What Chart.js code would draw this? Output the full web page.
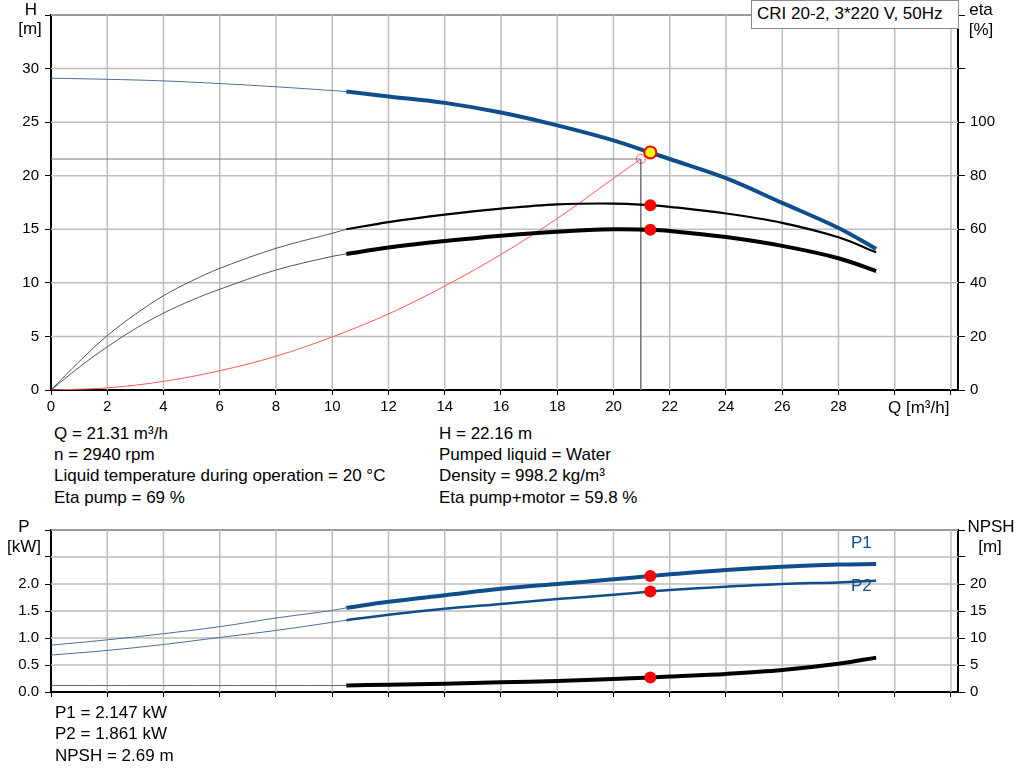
<!DOCTYPE html>
<html>
<head>
<meta charset="utf-8">
<script src="https://cdn.jsdelivr.net/npm/chart.js@4.4.1/dist/chart.umd.min.js"></script>
<style>
body{margin:0;background:#fff;width:1024px;height:781px;overflow:hidden;position:relative;font-family:"Liberation Sans",Arial,sans-serif;font-size:17px;color:#000}
.t{position:absolute;white-space:nowrap;line-height:18px;z-index:2}
.c{text-align:center;width:60px}
canvas{position:absolute;left:0}
#box{position:absolute;left:751px;top:0;width:206px;height:27px;border:1px solid #8a8a8a;background:#fff;z-index:2}
</style>
</head>
<body>
<canvas id="top" width="1024" height="420" style="top:0"></canvas>
<canvas id="bot" width="1024" height="207" style="top:515px"></canvas>

<div id="box"></div>
<div class="t" style="left:757px;top:5px">CRI 20-2, 3*220 V, 50Hz</div>
<div class="t c" style="left:1px;top:1px">H</div>
<div class="t c" style="left:0px;top:20px">[m]</div>
<div class="t c" style="left:951px;top:1px">eta</div>
<div class="t c" style="left:951px;top:21px">[%]</div>
<div class="t" style="left:888px;top:399px">Q [m³/h]</div>

<div class="t" style="left:54px;top:425px">Q = 21.31 m³/h</div>
<div class="t" style="left:54px;top:446px">n = 2940 rpm</div>
<div class="t" style="left:54px;top:467px">Liquid temperature during operation = 20 °C</div>
<div class="t" style="left:54px;top:489px">Eta pump = 69 %</div>
<div class="t" style="left:439px;top:425px">H = 22.16 m</div>
<div class="t" style="left:439px;top:446px">Pumped liquid = Water</div>
<div class="t" style="left:439px;top:467px">Density = 998.2 kg/m³</div>
<div class="t" style="left:439px;top:489px">Eta pump+motor = 59.8 %</div>

<div class="t c" style="left:-6px;top:518px">P</div>
<div class="t c" style="left:-6px;top:538px">[kW]</div>
<div class="t c" style="left:961px;top:518px">NPSH</div>
<div class="t c" style="left:960px;top:538px">[m]</div>
<div class="t" style="left:851px;top:534px;color:#104e8b">P1</div>
<div class="t" style="left:851px;top:577px;color:#104e8b">P2</div>

<div class="t" style="left:55px;top:704px">P1 = 2.147 kW</div>
<div class="t" style="left:55px;top:725px">P2 = 1.861 kW</div>
<div class="t" style="left:55px;top:747px">NPSH = 2.69 m</div>

<script>
// axis ticks
const qTicks = [0,2,4,6,8,10,12,14,16,18,20,22,24,26,28,30,32];
const hTicks = [0,5,10,15,20,25,30,35];
const etaTicks = [0,20,40,60,80,100,120,140];
const pTicks = [0,0.5,1,1.5,2,2.5,3];
const npshTicks = [0,5,10,15,20,25,30];

// head curve
const qH   = [0,2,4,6,8,10,10.5,12,14,16,18,20,21.31,22,24,26,28,29.34];
const hVal = [29.1,29.0,28.85,28.6,28.3,27.95,27.85,27.4,26.8,25.9,24.7,23.3,22.16,21.56,19.77,17.46,15.12,13.18];

// efficiencies
const qEta     = [0,1,2,3,4,5,6,8,10,10.5,12,14,16,18,20,21.31,22,24,26,28,29.34];
const etaPump  = [0,10.6,20.3,28.3,35.2,40.7,45.4,52.9,58.5,60.0,62.7,65.5,67.7,69.3,69.6,69.0,68.4,65.9,62.4,57.0,51.4];
const etaTotal = [0,8.5,16.1,22.9,28.7,33.5,37.6,44.8,49.9,50.8,53.2,55.6,57.6,59.1,60.0,59.8,59.4,57.1,53.8,49.2,44.4];

// system curve
const qSys = [0,2,4,6,8,10,12,14,16,18,20,20.97];
const hSys = [0,0.2,0.8,1.8,3.15,4.95,7.1,9.7,12.65,16.0,19.75,21.56];

// power curves
const qP  = [0,2,4,6,8,10,10.5,12,14,16,18,20,21.31,22,24,26,28,29.34];
const p1  = [0.867,0.966,1.08,1.21,1.37,1.51,1.56,1.67,1.79,1.91,2.0,2.086,2.147,2.18,2.26,2.32,2.36,2.37];
const p2  = [0.684,0.77,0.88,1.01,1.14,1.29,1.33,1.43,1.54,1.63,1.72,1.80,1.861,1.89,1.95,2.0,2.03,2.06];

// npsh
const qN   = [0,10.5,12,14,16,18,20,21.31,22,24,26,28,29.34];
const npsh = [1.2,1.2,1.35,1.55,1.8,2.05,2.4,2.69,2.85,3.35,4.07,5.22,6.37];

// duty point
const qOp = 21.31, hOp = 22.16, etaPOp = 69, etaTOp = 59.8, p1Op = 2.147, p2Op = 1.861, npshOp = 2.69;
const qCross = 20.97, hCross = 21.56;
const qThick = 10.5;
const Q_MAX = 32.25;

const BLUE = '#104e8b';
const GRID = '#bdbdbd';
const font = {family:'"Liberation Sans", Arial, sans-serif', size:15};

function pts(qs, vs, from, to){
  const out = [];
  qs.forEach((q,i)=>{ if(q>=from && q<=to) out.push({x:q, y:vs[i]}); });
  return out;
}
function line(data, color, width, yAxisID){
  return {data, borderColor:color, borderWidth:width, pointRadius:0, fill:false,
          tension:0.35, yAxisID, order:2};
}
function dot(x, y, yAxisID, bg, border, r, bw){
  return {data:[{x,y}], yAxisID, showLine:false, pointRadius:r, pointBackgroundColor:bg,
          pointBorderColor:border, pointBorderWidth:bw, order:0};
}
// grid line datasets (vertical at each q tick, horizontal at each y tick), drawn under the curves
function gridSets(yMax, yTicks){
  const sets = [];
  qTicks.filter(v => v > 0).forEach(v => sets.push({data:[{x:v,y:0},{x:v,y:yMax}], borderColor:GRID,
    borderWidth:1.5, pointRadius:0, tension:0, yAxisID:'y', order:9}));
  yTicks.filter(v => v > 0).forEach(v => sets.push({data:[{x:0,y:v},{x:Q_MAX,y:v}],
    borderColor: v === yMax ? '#9a9a9a' : GRID, borderWidth: v === yMax ? 2 : 1.5,
    pointRadius:0, tension:0, yAxisID:'y', order:9, clip:false}));
  return sets;
}
function fixTicks(arr){ return s => { s.ticks = arr.map(v=>({value:v})); }; }

function xScale(showLabels){
  return {type:'linear', min:0, max:Q_MAX,
    afterBuildTicks: fixTicks(qTicks),
    afterFit: s => { s.height = 30; },
    grid:{drawOnChartArea:false, tickLength:5, tickColor:'#000', tickWidth:1},
    border:{color:'#000', width:2},
    ticks:{font, color:'#000', padding:3, maxRotation:0, autoSkip:false,
      callback: v => (showLabels && v<=28) ? String(v) : ''}};
}
function yLeft(max, ticks, lim, fmt){
  return {type:'linear', position:'left', min:0, max,
    afterBuildTicks: fixTicks(ticks),
    afterFit: s => { s.width = 51; },
    grid:{drawOnChartArea:false, tickLength:6, tickColor:'#000', tickWidth:1},
    border:{color:'#000', width:2},
    ticks:{font, color:'#000', padding:6, autoSkip:false,
      callback: v => v<=lim ? fmt(v) : ''}};
}
function yRight(max, ticks, lim){
  return {type:'linear', position:'right', min:0, max,
    afterBuildTicks: fixTicks(ticks),
    afterFit: s => { s.width = 66; },
    grid:{drawOnChartArea:false, tickLength:7, tickColor:'#000', tickWidth:1},
    border:{color:'#000', width:2},
    ticks:{font, color:'#000', padding:5, autoSkip:false,
      callback: v => v<=lim ? String(v) : ''}};
}
const common = {responsive:false, animation:false, events:[],
  plugins:{legend:{display:false}, tooltip:{enabled:false}}};

new Chart(document.getElementById('top'), {
  type:'line',
  data:{datasets:[
    dot(qOp, hOp, 'y', '#ffff00', '#ff0000', 6, 2),
    dot(qOp, etaPOp, 'y1', '#ff0000', '#ff0000', 6, 0),
    dot(qOp, etaTOp, 'y1', '#ff0000', '#ff0000', 6, 0),
    dot(qCross, hCross, 'y', 'rgba(0,0,0,0)', 'rgba(255,0,0,0.6)', 4.5, 1),
    line(pts(qH, hVal, 0, qThick), '#4a6f98', 1, 'y'),
    line(pts(qH, hVal, qThick, 99), BLUE, 4, 'y'),
    line(pts(qEta, etaPump, 0, qThick), '#555', 1, 'y1'),
    line(pts(qEta, etaPump, qThick, 99), '#000', 2.2, 'y1'),
    line(pts(qEta, etaTotal, 0, qThick), '#555', 1, 'y1'),
    line(pts(qEta, etaTotal, qThick, 99), '#000', 4, 'y1'),
    line(pts(qSys, hSys, 0, 99), '#ff5a5a', 1, 'y'),
    {data:[{x:0,y:hCross},{x:qCross,y:hCross},{x:qCross,y:0}], borderColor:'#777', borderWidth:1,
     pointRadius:0, tension:0, yAxisID:'y', order:3},
    ...gridSets(35, hTicks)
  ]},
  options:{...common, layout:{padding:{top:1,left:0,right:0,bottom:0}},
    scales:{x:xScale(true), y:yLeft(35, hTicks, 30, v=>String(v)), y1:yRight(140, etaTicks, 100)}}
});

new Chart(document.getElementById('bot'), {
  type:'line',
  data:{datasets:[
    dot(qOp, p1Op, 'y', '#ff0000', '#ff0000', 6, 0),
    dot(qOp, p2Op, 'y', '#ff0000', '#ff0000', 6, 0),
    dot(qOp, npshOp, 'y1', '#ff0000', '#ff0000', 6, 0),
    line(pts(qP, p1, 0, qThick), '#4a6f98', 1, 'y'),
    line(pts(qP, p1, qThick, 99), BLUE, 4, 'y'),
    line(pts(qP, p2, 0, qThick), '#4a6f98', 1, 'y'),
    line(pts(qP, p2, qThick, 99), BLUE, 2.5, 'y'),
    line(pts(qN, npsh, 0, qThick), '#666', 1, 'y1'),
    line(pts(qN, npsh, qThick, 99), '#000', 4, 'y1'),
    ...gridSets(3, pTicks)
  ]},
  options:{...common, layout:{padding:{top:2,left:0,right:0,bottom:0}},
    scales:{x:xScale(false), y:yLeft(3, pTicks, 2, v=>v.toFixed(1)), y1:yRight(30, npshTicks, 20)}}
});
</script>
</body>
</html>
